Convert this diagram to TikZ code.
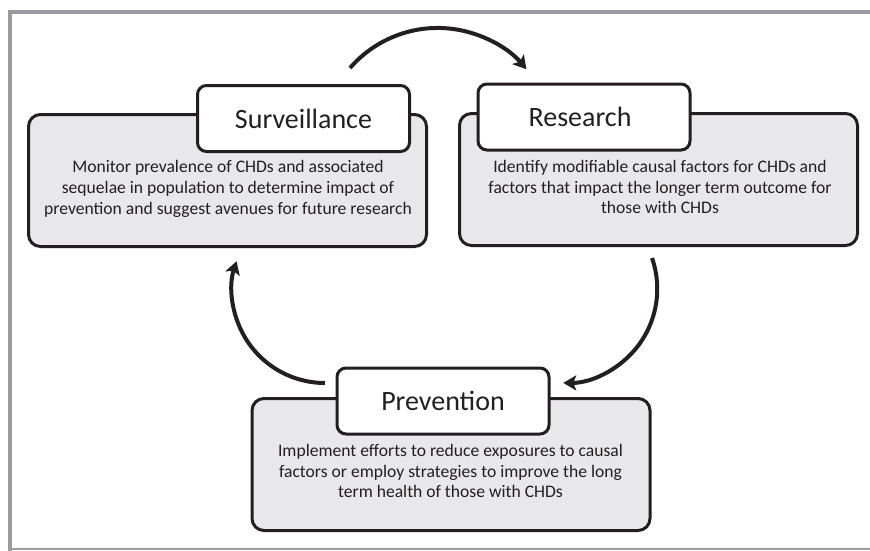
\documentclass[tikz,border=0pt]{standalone}
\usepackage{fontspec}
\setmainfont{Carlito}
\usetikzlibrary{arrows.meta}
\definecolor{boxgray}{HTML}{E8E8EA}
\definecolor{ink}{HTML}{231F20}
\definecolor{framegray}{HTML}{9C9CA0}
\begin{document}
\begin{tikzpicture}[x=1pt,y=1pt,
  panel/.style={draw=ink,line width=3pt,fill=boxgray,rounded corners=12pt,inner sep=0pt,minimum width=398pt,minimum height=132pt},
  tag/.style={draw=ink,line width=3pt,fill=white,rounded corners=9pt,inner sep=0pt,minimum width=212pt,minimum height=66pt,font=\fontsize{28}{34}\selectfont,text=ink},
  body/.style={font=\fontsize{17.6}{20.8}\selectfont,align=center,text=ink,inner sep=0pt},
  cyc/.style={draw=ink,line width=4pt,-{Stealth[length=13pt,width=15pt,inset=3pt]}}]
\useasboundingbox (0,0) rectangle (870,-550);
\fill[white] (0,0) rectangle (870,-550);
\draw[framegray,line width=4pt] (10,-552) -- (10,-12) -- (872,-12);
\draw[framegray,line width=1.5pt] (12,-549.2) -- (872,-549.2);
% panels
\node[panel] (spanel) at (227.5,-180.5) {};
\node[panel] (rpanel) at (658.5,-179.5) {};
\node[panel] (ppanel) at (451,-464.5) {};
% tags
\node[tag] (stag) at (303.5,-118.5) {Surveillance};
\node[tag] (rtag) at (584,-117) {\hspace*{-8pt}Research};
\node[tag] (ptag) at (443,-401) {Prevention};
% body texts
\node[body] (sbody) at (228,-189) {Monitor prevalence of CHDs and associated\\sequelae in population to determine impact of\\prevention and suggest avenues for future research};
\node[body] (rbody) at (660,-187) {Identify modifiable causal factors for CHDs and\\factors that impact the longer term outcome for\\those with CHDs};
\node[body] (pbody) at (450.5,-471) {Implement efforts to reduce exposures to causal\\factors or employ strategies to improve the long\\term health of those with CHDs};
% cycle arrows
\coordinate (a1s) at (350,-68);
\coordinate (a2s) at (652,-258);
\coordinate (a3s) at (325,-383);
\draw[cyc] (a1s) arc[start angle=139.1,end angle=40.1,radius=116];
\draw[cyc] (a2s) arc[start angle=19.2,end angle=-90,radius=94];
\draw[cyc] (a3s) arc[start angle=270,end angle=162,radius=93];
\end{tikzpicture}
\end{document}
